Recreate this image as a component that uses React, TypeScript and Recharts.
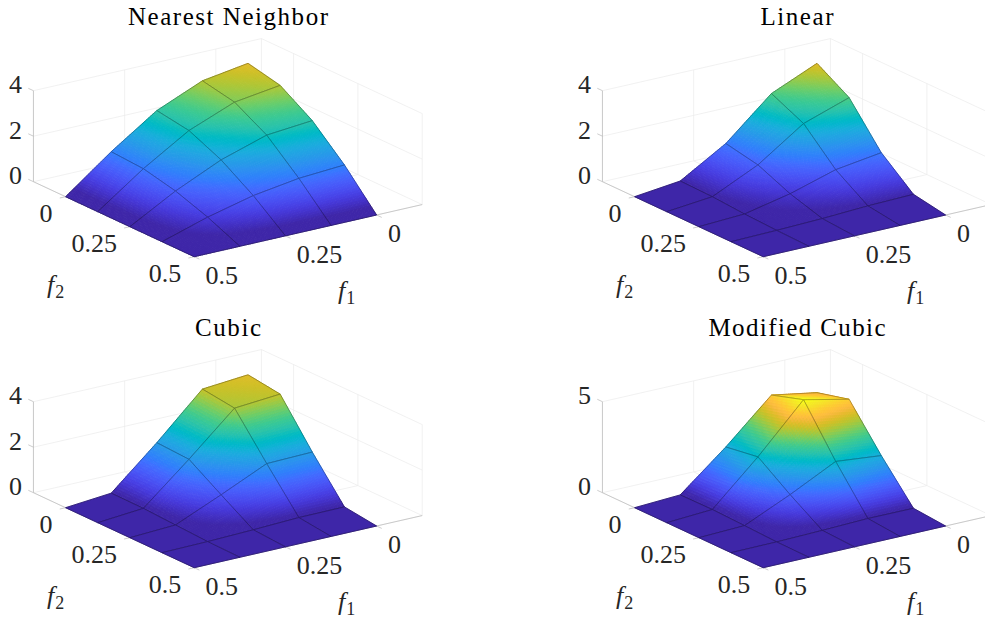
import React from 'react';
import { ScatterChart, Scatter, XAxis, YAxis } from 'recharts';

// Surface heights, rows = f1 (0 .. 0.5), columns = f2 (0 .. 0.5)
const f1Samples = [0, 0.125, 0.25, 0.375, 0.5];
const f2Samples = [0, 0.125, 0.25, 0.375, 0.5];

const nearestZ = [
  [4.03, 3.72, 2.83, 1.54, 0],
  [3.72, 3.44, 2.65, 1.41, 0],
  [2.87, 2.65, 2.02, 1.11, 0],
  [1.52, 1.43, 1.11, 0.62, 0],
  [0, 0, 0, 0, 0],
];
const linearZ = [
  [4.03, 3.18, 1.42, 0.25, 0],
  [3.16, 2.5, 1.13, 0.2, 0],
  [1.42, 1.14, 0.53, 0.1, 0],
  [0.23, 0.2, 0.1, 0.04, 0],
  [0, 0, 0, 0, 0],
];
const cubicZ = [
  [4.01, 3.82, 1.93, 0.18, 0],
  [3.84, 3.66, 1.88, 0.17, 0],
  [1.94, 1.87, 0.97, 0.09, 0],
  [0.18, 0.17, 0.1, 0.03, 0],
  [0, 0, 0, 0, 0],
];
const modifiedZ = [
  [4.03, 4.49, 2.22, 0.15, 0],
  [4.47, 5.04, 2.47, 0.16, 0],
  [2.19, 2.47, 1.22, 0.08, 0],
  [0.13, 0.15, 0.09, 0.02, 0],
  [0, 0, 0, 0, 0],
];

const panelTitles = ['Nearest Neighbor', 'Linear', 'Cubic', 'Modified Cubic'];
const panelTitleWidths = [200, 73, 66, 177];
const panelGrids = [nearestZ, linearZ, cubicZ, modifiedZ];
const zTickSets = [[0, 2, 4], [0, 2, 4], [0, 2, 4], [0, 5]];
const horizontalTicks = [0, 0.25, 0.5];
const horizontalTickLabels = ['0', '0.25', '0.5'];
const panelLefts = [0, 568.6, 0, 568.6];
const panelTops = [0, 0, 310.6, 310.6];

const F_MIN = -0.125;
const F_MAX = 0.5;
const COLOR_MIN = 0.25;
const COLOR_MAX = 5.04;
const CHART_W = 440;
const CHART_H = 312;
const Z_PIXELS = 91;

const parula = [
  [0.2422, 0.1504, 0.6603], [0.2504, 0.165, 0.7076], [0.2578, 0.1818, 0.7511], [0.2647, 0.1978, 0.7952],
  [0.2706, 0.2147, 0.8364], [0.2751, 0.2342, 0.871], [0.2783, 0.2559, 0.8991], [0.2803, 0.2782, 0.9221],
  [0.2813, 0.3006, 0.9414], [0.281, 0.3228, 0.9579], [0.2795, 0.3447, 0.9717], [0.276, 0.3667, 0.9829],
  [0.2699, 0.3892, 0.9906], [0.2602, 0.4123, 0.9952], [0.244, 0.4358, 0.9988], [0.2206, 0.4603, 0.9973],
  [0.1963, 0.4847, 0.9892], [0.1834, 0.5074, 0.9798], [0.1786, 0.5289, 0.9682], [0.1764, 0.5499, 0.952],
  [0.1687, 0.5703, 0.9359], [0.154, 0.5902, 0.9218], [0.146, 0.6091, 0.9079], [0.138, 0.6276, 0.8973],
  [0.1248, 0.6459, 0.8883], [0.1113, 0.6635, 0.8763], [0.0952, 0.6798, 0.8598], [0.0689, 0.6948, 0.8394],
  [0.0297, 0.7082, 0.8163], [0.0036, 0.7203, 0.7917], [0.0067, 0.7312, 0.766], [0.0433, 0.7411, 0.7394],
  [0.0964, 0.75, 0.712], [0.1408, 0.7584, 0.6842], [0.1717, 0.767, 0.6554], [0.1938, 0.7758, 0.6251],
  [0.2161, 0.7843, 0.5923], [0.247, 0.7918, 0.5567], [0.2906, 0.7973, 0.5188], [0.3406, 0.8008, 0.4789],
  [0.3909, 0.8029, 0.4354], [0.4456, 0.8024, 0.3909], [0.5044, 0.7993, 0.348], [0.5616, 0.7942, 0.3045],
  [0.6174, 0.7876, 0.2612], [0.672, 0.7793, 0.2227], [0.7242, 0.7698, 0.191], [0.7738, 0.7598, 0.1646],
  [0.8203, 0.7498, 0.1535], [0.8634, 0.7406, 0.1596], [0.9035, 0.733, 0.1774], [0.9393, 0.7288, 0.21],
  [0.9728, 0.7298, 0.2394], [0.9956, 0.7434, 0.2371], [0.997, 0.7659, 0.2199], [0.9952, 0.7861, 0.1996],
  [0.9892, 0.8134, 0.1885], [0.9786, 0.8422, 0.1764], [0.9676, 0.8729, 0.1618], [0.961, 0.899, 0.1536],
  [0.9597, 0.925, 0.1405], [0.9628, 0.95, 0.126], [0.9691, 0.977, 0.09], [0.9769, 0.9839, 0.0805],
];

const colorOf = (z: number) => {
  const t = Math.max(0, Math.min(1, (z - COLOR_MIN) / (COLOR_MAX - COLOR_MIN))) * (parula.length - 1);
  const a = Math.min(parula.length - 2, Math.floor(t));
  const u = t - a;
  const c = parula[a].map((v, k) => Math.round(255 * (v + (parula[a + 1][k] - v) * u)));
  return `rgb(${c[0]},${c[1]},${c[2]})`;
};

// orthographic view of the axes box
const project = (f1: number, f2: number, zPx = 0) => ({
  x: 248 - 364.8 * f1 + 257.2 * f2,
  y: 155 + 83.4 * f1 + 120 * f2 - zPx,
});

const Nothing = () => null;

const pairsLine = (stroke: string, width: number) => (props: any) => {
  const pts = props.points as { x: number; y: number }[];
  let d = '';
  for (let k = 0; k + 1 < pts.length; k += 2) {
    d += `M${pts[k].x} ${pts[k].y}L${pts[k + 1].x} ${pts[k + 1].y}`;
  }
  return <path d={d} fill="none" stroke={stroke} strokeWidth={width} />;
};

const surfaceLine = (grid: number[][]) => (props: any) => {
  const pts = props.points as { x: number; y: number }[];
  const rows = grid.length;
  const cols = grid[0].length;
  const at = (i: number, j: number) => pts[i * cols + j];
  const out: React.ReactNode[] = [];
  for (let i = 0; i < rows - 1; i++) {
    for (let j = 0; j < cols - 1; j++) {
      const z = [grid[i][j], grid[i][j + 1], grid[i + 1][j + 1], grid[i + 1][j]];
      const p = [at(i, j), at(i, j + 1), at(i + 1, j + 1), at(i + 1, j)];
      const flat = z.every((v) => v <= COLOR_MIN);
      const n = flat ? 1 : 22;
      const blend = (u: number, v: number, vals: number[]) =>
        (1 - u) * (1 - v) * vals[0] + (1 - u) * v * vals[1] + u * v * vals[2] + u * (1 - v) * vals[3];
      const xs = p.map((q) => q.x);
      const ys = p.map((q) => q.y);
      for (let a = 0; a < n; a++) {
        for (let b = 0; b < n; b++) {
          const corners = [[a, b], [a, b + 1], [a + 1, b + 1], [a + 1, b]]
            .map(([u, v]) => `${blend(u / n, v / n, xs).toFixed(2)},${blend(u / n, v / n, ys).toFixed(2)}`)
            .join(' ');
          const c = colorOf(blend((a + 0.5) / n, (b + 0.5) / n, z));
          out.push(
            <polygon
              key={`${i}-${j}-${a}-${b}`}
              points={corners}
              fill={c}
              stroke={c}
              strokeWidth={0.9}
              strokeLinejoin="round"
            />,
          );
        }
      }
      out.push(
        <polygon
          key={`${i}-${j}-edge`}
          points={p.map((q) => `${q.x},${q.y}`).join(' ')}
          fill="none"
          stroke="#000"
          strokeOpacity={0.5}
          strokeWidth={0.55}
        />,
      );
    }
  }
  return <g>{out}</g>;
};

const LabelMark = (props: any) => {
  const { cx, cy, payload } = props;
  const l = payload;
  if (l.sub) {
    return (
      <text x={cx + l.dx} y={cy + l.dy} fontFamily="Liberation Serif" fontSize={26} fill="#262626">
        <tspan fontStyle="italic">f</tspan>
        <tspan dx={1} dy={5} fontSize={18}>{l.sub}</tspan>
      </text>
    );
  }
  return (
    <text
      x={cx + l.dx}
      y={cy + l.dy}
      textAnchor={l.anchor}
      fontFamily="Liberation Serif"
      fontSize={l.size}
      fill={l.color}
      textLength={l.width}
      lengthAdjust={l.width ? 'spacing' : undefined}
    >
      {l.text}
    </text>
  );
};

const Panel = ({ index }: { index: number }) => {
  const grid = panelGrids[index];
  const zTicks = zTickSets[index];
  const zTop = zTicks[zTicks.length - 1];
  const zPx = (z: number) => (z / zTop) * Z_PIXELS;

  const vertices: { x: number; y: number }[] = [];
  f1Samples.forEach((f1, i) => f2Samples.forEach((f2, j) => vertices.push(project(f1, f2, zPx(grid[i][j])))));

  const gridPairs: { x: number; y: number }[] = [];
  const seg = (list: typeof gridPairs, a: { x: number; y: number }, b: { x: number; y: number }) => list.push(a, b);
  horizontalTicks.forEach((t) => {
    seg(gridPairs, project(t, F_MIN), project(t, F_MAX));
    seg(gridPairs, project(F_MIN, t), project(F_MAX, t));
    seg(gridPairs, project(t, F_MIN), project(t, F_MIN, Z_PIXELS));
    seg(gridPairs, project(F_MIN, t), project(F_MIN, t, Z_PIXELS));
  });
  seg(gridPairs, project(F_MIN, F_MIN), project(F_MIN, F_MIN, Z_PIXELS));
  zTicks.forEach((z) => {
    seg(gridPairs, project(F_MAX, F_MIN, zPx(z)), project(F_MIN, F_MIN, zPx(z)));
    seg(gridPairs, project(F_MIN, F_MIN, zPx(z)), project(F_MIN, F_MAX, zPx(z)));
  });

  const axisPairs: { x: number; y: number }[] = [];
  seg(axisPairs, project(F_MAX, F_MIN), project(F_MAX, F_MIN, Z_PIXELS));
  seg(axisPairs, project(F_MAX, F_MIN), project(F_MAX, F_MAX));
  seg(axisPairs, project(F_MAX, F_MAX), project(F_MIN, F_MAX));
  zTicks.forEach((z) => seg(axisPairs, project(F_MAX, F_MIN, zPx(z)), project(F_MAX, F_MIN - 0.02, zPx(z))));
  horizontalTicks.forEach((t) => {
    seg(axisPairs, project(F_MAX, t), project(F_MAX + 0.016, t));
    seg(axisPairs, project(t, F_MAX), project(t, F_MAX + 0.02));
  });

  const text = { color: '#262626', size: 26 };
  const labels: any[] = [];
  zTicks.forEach((z) =>
    labels.push({ ...project(F_MAX, F_MIN, zPx(z)), text: String(z), anchor: 'end', dx: -11.5, dy: 2.5, ...text }),
  );
  horizontalTicks.forEach((t, k) => {
    labels.push({ ...project(F_MAX, t), text: horizontalTickLabels[k], anchor: 'end', dx: -13, dy: 25, ...text });
    labels.push({ ...project(t, F_MAX), text: horizontalTickLabels[k], anchor: 'start', dx: 11.3, dy: 27, ...text });
  });
  labels.push({ ...project(F_MAX, 0.25), sub: '2', dx: -83, dy: 66 });
  labels.push({ ...project(0.25, F_MAX), sub: '1', dx: 52.5, dy: 63 });
  labels.push({
    x: 228,
    y: 25,
    text: panelTitles[index],
    anchor: 'middle',
    dx: 0,
    dy: 0,
    color: '#000',
    size: 25,
    width: panelTitleWidths[index],
  });

  return (
    <div style={{ position: 'absolute', left: panelLefts[index], top: panelTops[index] }}>
      <ScatterChart width={CHART_W} height={CHART_H} margin={{ top: 0, right: 0, bottom: 0, left: 0 }}>
        <XAxis type="number" dataKey="x" domain={[0, CHART_W]} hide />
        <YAxis type="number" dataKey="y" domain={[0, CHART_H]} reversed hide />
        <Scatter data={gridPairs} isAnimationActive={false} shape={Nothing} line={pairsLine('#ebebeb', 0.7)} />
        <Scatter data={axisPairs} isAnimationActive={false} shape={Nothing} line={pairsLine('#b8b8b8', 0.7)} />
        <Scatter data={vertices} isAnimationActive={false} shape={Nothing} line={surfaceLine(grid)} />
        <Scatter data={labels} isAnimationActive={false} shape={LabelMark} />
      </ScatterChart>
    </div>
  );
};

export default function App() {
  return (
    <div
      style={{ position: 'absolute', left: 0, top: 0, width: 985, height: 622, overflow: 'hidden', background: '#fff' }}
    >
      {panelTitles.map((_, k) => (
        <Panel key={k} index={k} />
      ))}
    </div>
  );
}
